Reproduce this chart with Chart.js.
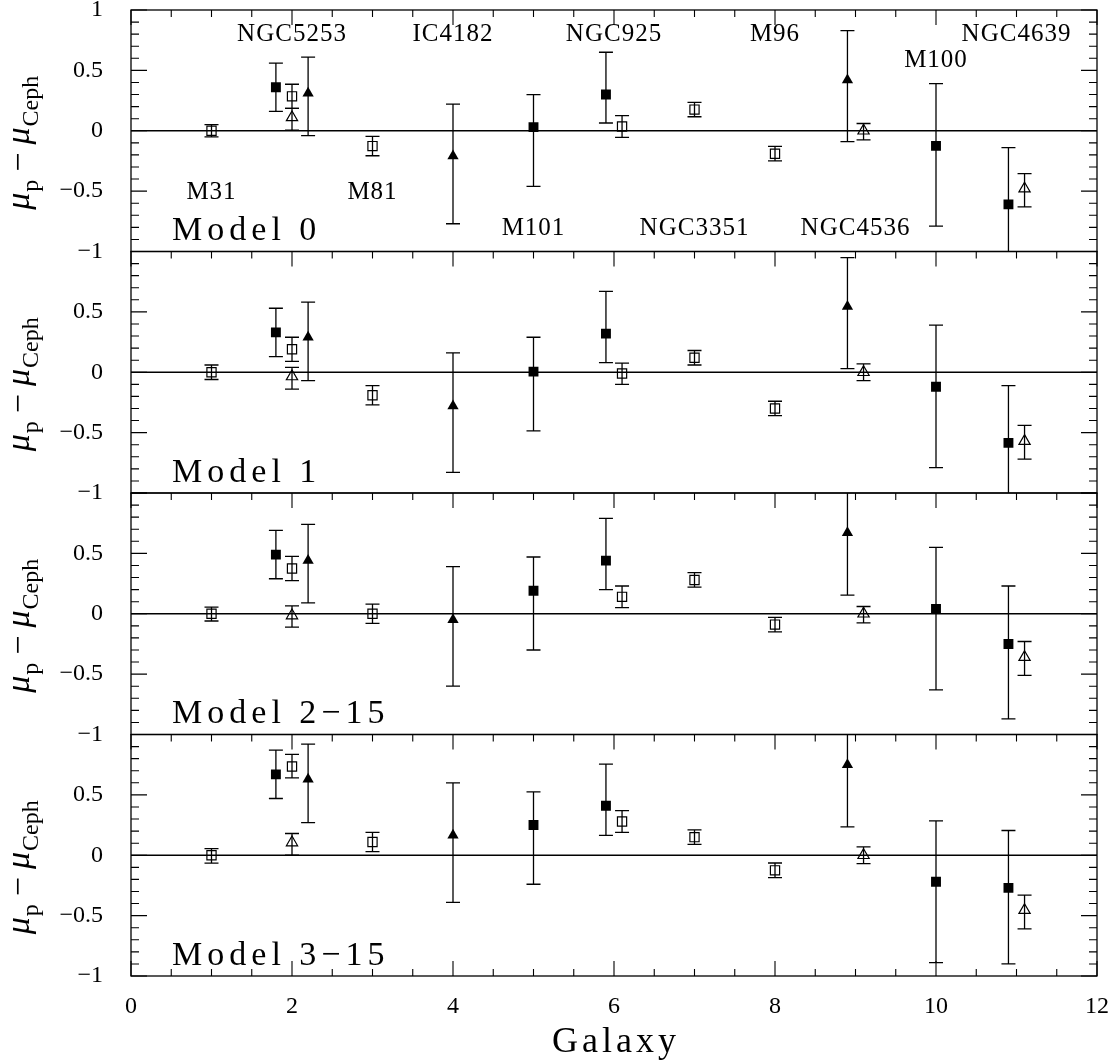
<!DOCTYPE html>
<html>
<head>
<meta charset="utf-8">
<script src="https://cdn.jsdelivr.net/npm/chart.js@4"></script>
<style>
  html, body { margin: 0; padding: 0; background: #fff; }
</style>
</head>
<body>
<canvas id="chart" width="1119" height="1063"></canvas>
<script>
// panels, top to bottom
const modelNames = ['Model 0', 'Model 1', 'Model 2\u221215', 'Model 3\u221215'];

// galaxy names written in the top panel
const galaxyNames = ['M31', 'NGC5253', 'M81', 'IC4182', 'M101', 'NGC925', 'NGC3351', 'M96', 'NGC4536', 'M100', 'NGC4639'];
const galaxyLabelX = [1, 2, 3, 4, 5, 6, 7, 8, 9, 10, 11];
const galaxyLabelY = [-0.51, 0.8, -0.51, 0.8, -0.81, 0.8, -0.81, 0.8, -0.81, 0.585, 0.8];

const xTicks = [0, 2, 4, 6, 8, 10, 12];
const yTicks = [-1, -0.5, 0, 0.5, 1];

// open squares
const openSqX = [1, 2, 3, 6.1, 7, 8];
const openSqY = [
  [0, 0.285, -0.127, 0.035, 0.175, -0.19],
  [0, 0.19, -0.19, -0.01, 0.12, -0.30],
  [0, 0.375, 0, 0.14, 0.28, -0.09],
  [0, 0.735, 0.11, 0.28, 0.15, -0.125]
];
const openSqHi = [
  [0.05, 0.385, -0.047, 0.125, 0.235, -0.13],
  [0.06, 0.29, -0.11, 0.075, 0.18, -0.24],
  [0.055, 0.475, 0.08, 0.23, 0.34, -0.03],
  [0.055, 0.835, 0.19, 0.37, 0.21, -0.064]
];
const openSqLo = [
  [-0.05, 0.185, -0.207, -0.055, 0.116, -0.25],
  [-0.06, 0.09, -0.27, -0.1, 0.06, -0.36],
  [-0.06, 0.275, -0.08, 0.05, 0.22, -0.15],
  [-0.065, 0.64, 0.03, 0.19, 0.09, -0.185]
];

// filled squares
const fillSqX = [1.8, 5, 5.9, 10, 10.9];
const fillSqY = [
  [0.36, 0.03, 0.30, -0.125, -0.61],
  [0.33, 0.005, 0.32, -0.12, -0.585],
  [0.49, 0.19, 0.44, 0.04, -0.25],
  [0.67, 0.25, 0.41, -0.22, -0.27]
];
const fillSqHi = [
  [0.56, 0.30, 0.65, 0.39, -0.14],
  [0.53, 0.29, 0.67, 0.39, -0.11],
  [0.69, 0.47, 0.79, 0.55, 0.23],
  [0.87, 0.525, 0.755, 0.285, 0.205]
];
const fillSqLo = [
  [0.16, -0.46, 0.064, -0.79, -1.08],
  [0.13, -0.485, 0.08, -0.79, -1.06],
  [0.29, -0.30, 0.20, -0.63, -0.87],
  [0.47, -0.24, 0.165, -0.89, -0.90]
];

// filled triangles
const fillTriX = [2.2, 4, 8.9];
const fillTriY = [
  [0.31, -0.21, 0.42],
  [0.29, -0.28, 0.545],
  [0.44, -0.05, 0.67],
  [0.63, 0.165, 0.75]
];
const fillTriHi = [
  [0.61, 0.22, 0.83],
  [0.58, 0.16, 0.95],
  [0.74, 0.39, 1.15],
  [0.92, 0.60, 1.2]
];
const fillTriLo = [
  [-0.04, -0.77, -0.09],
  [-0.07, -0.83, 0.03],
  [0.09, -0.60, 0.155],
  [0.27, -0.39, 0.235]
];

// open triangles
const openTriX = [2, 9.1, 11.1];
const openTriY = [
  [0.11, 0, -0.48],
  [-0.035, 0, -0.57],
  [-0.015, 0, -0.36],
  [0.105, 0, -0.455]
];
const openTriHi = [
  [0.185, 0.06, -0.355],
  [0.04, 0.07, -0.44],
  [0.066, 0.06, -0.23],
  [0.18, 0.07, -0.33]
];
const openTriLo = [
  [0.005, -0.075, -0.63],
  [-0.14, -0.07, -0.72],
  [-0.11, -0.075, -0.51],
  [0.0, -0.07, -0.61]
];

const FONT = "'Liberation Serif', 'DejaVu Serif', serif";

const seriesList = [
  { x: openSqX, y: openSqY, hi: openSqHi, lo: openSqLo, style: 'rect', filled: false, r: 6.5 },
  { x: fillSqX, y: fillSqY, hi: fillSqHi, lo: fillSqLo, style: 'rect', filled: true, r: 7 },
  { x: fillTriX, y: fillTriY, hi: fillTriHi, lo: fillTriLo, style: 'triangle', filled: true, r: 6.5 },
  { x: openTriX, y: openTriY, hi: openTriHi, lo: openTriLo, style: 'triangle', filled: false, r: 6.5 }
];

const panelIds = modelNames.map((m, k) => 'p' + k);

const datasets = [];
panelIds.forEach((id, k) => {
  seriesList.forEach(s => {
    datasets.push({
      type: 'scatter',
      yAxisID: id,
      xAxisID: 'x',
      data: s.x.map((x, i) => ({ x: x, y: s.y[k][i] })),
      errHi: s.hi[k],
      errLo: s.lo[k],
      pointStyle: s.style,
      pointRadius: s.r,
      pointHoverRadius: s.r,
      pointBackgroundColor: s.filled ? '#000' : '#fff',
      pointBorderColor: '#000',
      pointBorderWidth: s.filled ? 0 : 1.2,
      showLine: false
    });
  });
});

function fmtTick(v) {
  if (v < 0) return '\u2212' + Math.abs(v);
  return String(v);
}

// y scales are stacked; the last one defined goes on top
const scales = {
  x: {
    type: 'linear',
    position: 'bottom',
    min: 0,
    max: 12,
    afterBuildTicks: (s) => { s.ticks = xTicks.map(v => ({ value: v })); },
    ticks: { color: '#000', font: { family: FONT, size: 24 }, padding: 8, maxRotation: 0 },
    grid: { display: false },
    border: { display: false },
    afterFit: (s) => { s.height = 87; s.paddingLeft = 0; s.paddingRight = 0; }
  }
};
panelIds.slice().reverse().forEach(id => {
  const k = panelIds.indexOf(id);
  scales[id] = {
    type: 'linear',
    position: 'left',
    stack: 'panels',
    stackWeight: 1,
    min: -1,
    max: 1,
    afterBuildTicks: (s) => { s.ticks = yTicks.map(v => ({ value: v })); },
    ticks: {
      color: '#000',
      font: { family: FONT, size: 24 },
      padding: 20,
      callback: (v) => (k > 0 && v === 1) ? '' : fmtTick(v)
    },
    grid: { display: false },
    border: { display: false },
    afterFit: (s) => { s.width = 131; s.paddingTop = 0; s.paddingBottom = 0; }
  };
});

function drawYTitle(ctx, cx, cy) {
  const parts = [
    { t: '\u03bc', f: 'italic 34px ' + FONT, dy: 0, gap: 1 },
    { t: 'p', f: '24px ' + FONT, dy: 9, gap: 8 },
    { t: '\u2212', f: '34px ' + FONT, dy: 0, gap: 8 },
    { t: '\u03bc', f: 'italic 34px ' + FONT, dy: 0, gap: 1 },
    { t: 'Ceph', f: '24px ' + FONT, dy: 9, gap: 0 }
  ];
  let total = 0;
  parts.forEach(p => { ctx.font = p.f; p.w = ctx.measureText(p.t).width; total += p.w + p.gap; });
  ctx.save();
  ctx.translate(cx, cy);
  ctx.rotate(-Math.PI / 2);
  ctx.textAlign = 'left';
  ctx.textBaseline = 'alphabetic';
  ctx.fillStyle = '#000';
  let x = -total / 2;
  parts.forEach(p => {
    ctx.font = p.f;
    ctx.fillText(p.t, x, p.dy);
    x += p.w + p.gap;
  });
  ctx.restore();
}

const panelDecor = {
  id: 'panelDecor',
  afterDatasetsDraw(chart) {
    const ctx = chart.ctx;
    const xs = chart.scales.x;
    const left = chart.chartArea.left;
    const right = chart.chartArea.right;
    ctx.save();
    ctx.strokeStyle = '#000';
    ctx.fillStyle = '#000';

    // error bars, clipped to their panel
    chart.data.datasets.forEach((ds, di) => {
      const meta = chart.getDatasetMeta(di);
      const ys = chart.scales[ds.yAxisID];
      ctx.save();
      ctx.beginPath();
      ctx.rect(left, ys.top, right - left, ys.bottom - ys.top);
      ctx.clip();
      ctx.lineWidth = 1.3;
      meta.data.forEach((pt, j) => {
        const px = pt.x;
        const yHi = ys.getPixelForValue(ds.errHi[j]);
        const yLo = ys.getPixelForValue(ds.errLo[j]);
        ctx.beginPath();
        ctx.moveTo(px, yHi); ctx.lineTo(px, yLo);
        ctx.moveTo(px - 7, yHi); ctx.lineTo(px + 7, yHi);
        ctx.moveTo(px - 7, yLo); ctx.lineTo(px + 7, yLo);
        ctx.stroke();
      });
      ctx.restore();
    });

    panelIds.forEach((id, k) => {
      const ys = chart.scales[id];
      const top = ys.top, bot = ys.bottom;
      ctx.lineWidth = 1.3;
      ctx.strokeRect(left, top, right - left, bot - top);

      // zero line
      const y0 = ys.getPixelForValue(0);
      ctx.beginPath();
      ctx.moveTo(left, y0); ctx.lineTo(right, y0);
      ctx.stroke();

      // inward y ticks, left and right
      ctx.lineWidth = 1.1;
      ctx.beginPath();
      for (let j = -10; j <= 10; j++) {
        const py = ys.getPixelForValue(j / 10);
        const len = (j % 5 === 0) ? 16 : 8;
        ctx.moveTo(left, py); ctx.lineTo(left + len, py);
        ctx.moveTo(right, py); ctx.lineTo(right - len, py);
      }
      // inward x ticks along the top, and the bottom of the last panel
      for (let j = 0; j <= 24; j++) {
        const px = xs.getPixelForValue(j / 2);
        const len = (j % 4 === 0) ? 15 : 7;
        ctx.moveTo(px, top); ctx.lineTo(px, top + len);
        if (k === panelIds.length - 1) {
          ctx.moveTo(px, bot); ctx.lineTo(px, bot - len);
        }
      }
      ctx.stroke();

      // model name
      ctx.font = '34px ' + FONT;
      ctx.letterSpacing = '5px';
      ctx.textAlign = 'left';
      ctx.textBaseline = 'alphabetic';
      ctx.fillText(modelNames[k], xs.getPixelForValue(0.51), ys.getPixelForValue(-0.905));
      ctx.letterSpacing = '0px';

      drawYTitle(ctx, 29, (top + bot) / 2 + 12);
    });

    // galaxy names in the top panel
    const ys0 = chart.scales[panelIds[0]];
    ctx.font = '25px ' + FONT;
    ctx.letterSpacing = '1px';
    ctx.textAlign = 'center';
    ctx.textBaseline = 'middle';
    galaxyNames.forEach((name, i) => {
      ctx.fillText(name, xs.getPixelForValue(galaxyLabelX[i]), ys0.getPixelForValue(galaxyLabelY[i]));
    });

    // x axis title
    ctx.font = '36px ' + FONT;
    ctx.letterSpacing = '4px';
    ctx.textAlign = 'center';
    ctx.textBaseline = 'alphabetic';
    ctx.fillText('Galaxy', (left + right) / 2 + 2, 1052);
    ctx.letterSpacing = '0px';
    ctx.restore();
  }
};

new Chart(document.getElementById('chart'), {
  type: 'scatter',
  data: { datasets: datasets },
  options: {
    responsive: false,
    animation: false,
    layout: { padding: { top: 10, right: 22, left: 0, bottom: 0 } },
    plugins: { legend: { display: false }, tooltip: { enabled: false } },
    scales: scales
  },
  plugins: [panelDecor]
});
</script>
</body>
</html>
